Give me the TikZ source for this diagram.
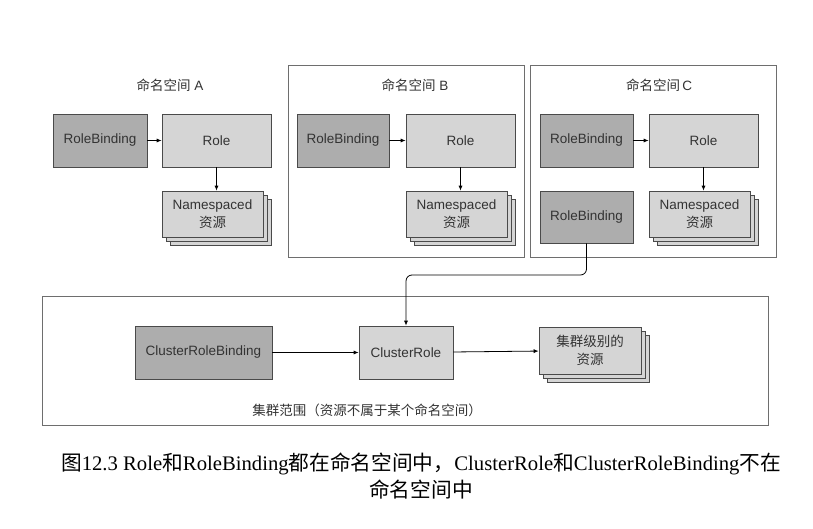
\documentclass[tikz,border=0pt]{standalone}
\usepackage{fontspec}
\setmainfont{Liberation Serif}
\setsansfont{Liberation Sans}
\newfontfamily\cjk{Noto Sans CJK SC}
\usepackage{tikz}
\usetikzlibrary{arrows.meta, % for the small arrow heads
                shadows, % for stacked resources
                calc,
                positioning}
\definecolor{bindgray}{HTML}{ADADAD}
\definecolor{rolegray}{HTML}{D5D5D5}
\definecolor{linegray}{HTML}{4A4A4A}
\definecolor{framegray}{HTML}{6E6E6E}
\definecolor{textgray}{HTML}{333333}

\begin{document}
\begin{tikzpicture}[x=1pt, y=-1pt,
    every node/.style={font=\sffamily\fontsize{13.5}{18}\selectfont, text=textgray},
    Binding/.style={draw=linegray, line width=0.6pt, fill=bindgray, inner sep=0pt, minimum height=53pt},
    Role/.style={draw=linegray, line width=0.6pt, fill=rolegray, inner sep=0pt, minimum height=53pt},
    Res/.style={draw=linegray, line width=0.6pt, fill=rolegray, inner sep=0pt, minimum height=46pt, align=center,
        double copy shadow={shadow xshift=4pt, shadow yshift=-4pt, draw=linegray, fill=rolegray}},
    Frame/.style={draw=framegray, line width=0.7pt, inner sep=0pt},
    link/.style={draw=black, line width=0.8pt, -{Latex[length=5pt,width=4pt]}}
    ]
    \useasboundingbox (0,0) rectangle (813,529);

    %Namespace frames
    \node[Frame, minimum width=236pt, minimum height=192pt] at (406,161) (nsB){};
    \node[Frame, minimum width=246pt, minimum height=192pt] at (653,161) (nsC){};
    \node[Frame, minimum width=726pt, minimum height=129pt] at (405,360.5) (cluster){};

    %Namespace A
    \node at (170,85) (titleA) {{\cjk 命名空间}\ A};
    \node[Binding, minimum width=94pt]  at (100,140.5)   (RBA)   {RoleBinding};
    \node[Role, minimum width=109pt]    at (216.5,140.5) (RoleA) {Role};
    \node[Res, minimum width=101pt]     at (212.5,214)   (ResA)  {Namespaced\\{\cjk 资源}};

    %Namespace B
    \node at (415,85) (titleB) {{\cjk 命名空间}\ B};
    \node[Binding, minimum width=92pt]  at (343,140.5)   (RBB)   {RoleBinding};
    \node[Role, minimum width=109pt]    at (460.5,140.5) (RoleB) {Role};
    \node[Res, minimum width=101pt]     at (456.5,214)   (ResB)  {Namespaced\\{\cjk 资源}};

    %Namespace C
    \node at (659,85) (titleC) {{\cjk 命名空间}\,C};
    \node[Binding, minimum width=93pt]  at (586.5,140.5) (RBC1)  {RoleBinding};
    \node[Role, minimum width=109pt]    at (703.5,140.5) (RoleC) {Role};
    \node[Res, minimum width=101pt]     at (699.5,214)   (ResC)  {Namespaced\\{\cjk 资源}};
    \node[Binding, minimum width=93pt, minimum height=52pt] at (586.5,217) (RBC2) {RoleBinding};

    %Cluster scope
    \node[Binding, minimum width=137pt] at (203.5,352.5) (CRB)  {ClusterRoleBinding};
    \node[Role, minimum width=94pt]     at (406,352.5)   (CR)   {ClusterRole};
    \node[Res, minimum width=102pt, minimum height=47pt] at (590,350.5) (CRes) {{\cjk 集群级别的}\\{\cjk 资源}};
    \node at (367,410) (titleCl) {{\cjk 集群范围（资源不属于某个命名空间）}};

    \foreach \x in {A, B, C} {
        \draw[link] (Role\x.south) -- (Role\x.south |- Res\x.north);
    }
    \draw[link] (RBA) -- (RoleA);
    \draw[link] (RBB) -- (RoleB);
    \draw[link] (RBC1) -- (RoleC);
    \draw[link] (CRB) -- (CR);
    \draw[link] (CR) -- (CRes);

    \coordinate (bend) at (406,275);
    \draw[link, rounded corners=6pt] (RBC2.south) |- (bend) -- (CR.north);

    %Caption
    \node[font=\rmfamily\fontsize{20.7}{27}\selectfont, text=black, align=center] at (421,476) (caption)
        {{\cjk 图}12.3 Role{\cjk 和}RoleBinding{\cjk 都在命名空间中，}ClusterRole{\cjk 和}ClusterRoleBinding{\cjk 不在}\\{\cjk 命名空间中}};
\end{tikzpicture}
\end{document}
